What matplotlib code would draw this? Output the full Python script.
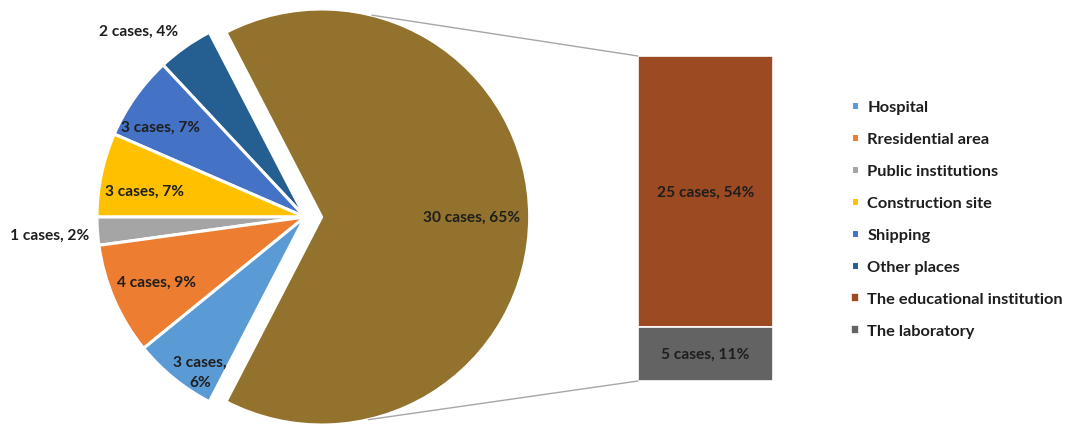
import numpy as np
import matplotlib
matplotlib.use("Agg")
import matplotlib.pyplot as plt
from matplotlib.patches import ConnectionPatch

plt.rcParams['font.family'] = ['Lato', 'DejaVu Sans']

# pie part (small places)
categories = ["Hospital", "Rresidential area", "Public institutions",
              "Construction site", "Shipping", "Other places"]
counts = [3, 4, 1, 3, 3, 2]
pcts = [6, 9, 2, 7, 7, 4]

# bar part (split of the big slice)
bar_categories = ["The educational institution", "The laboratory"]
bar_counts = [25, 5]
bar_pcts = [54, 11]
big_pct = 65

colors = ["#5B9BD5", "#ED7D31", "#A5A5A5", "#FFC000", "#4472C4", "#255E91"]
bar_colors = ["#9C4A22", "#636363"]
big_color = "#93722D"

W, H = 1068, 427
fig = plt.figure(figsize=(W / 100, H / 100), dpi=100)

# pie axes: 208 px per unit, center at (305, 218) px
R = 208.0
cx, cy = 305, 218
ax = fig.add_axes([0, 0, 620 / W, 1])

big = sum(bar_counts)
total = big + sum(counts)
values = [big] + counts[::-1]
pcolors = [big_color] + colors[::-1]
explode = [0.08] + [0] * len(counts)
start = -big / total * 180.0
wedges, _ = ax.pie(values, colors=pcolors, explode=explode, startangle=start,
                   counterclock=True,
                   wedgeprops=dict(edgecolor="white", linewidth=2.2))
ax.set_xlim(-cx / R, (620 - cx) / R)
ax.set_ylim(-(H - cy) / R, cy / R)
ax.set_aspect('auto')
ax.axis('off')

# labels
txt = dict(fontsize=11.2, fontweight='bold', color='#1e1e1e',
           ha='center', va='center')
small_labels = ["{} cases,\n{}%".format(c, p) if i == 0 else "{} cases, {}%".format(c, p)
                for i, (c, p) in enumerate(zip(counts, pcts))]
dist = [0.9, 0.78, 1.23, 0.78, 0.82, 1.2]
turn = [5, 0, 0, 2.5, 3.4, 6.5]
for k, w in enumerate(wedges[1:]):
    i = len(counts) - 1 - k
    mid = np.deg2rad((w.theta1 + w.theta2) / 2 + turn[i])
    ax.text(dist[i] * np.cos(mid), dist[i] * np.sin(mid), small_labels[i],
            linespacing=1.55, **txt)
bc = wedges[0].center
ax.text(bc[0] + 0.72, bc[1], "{} cases, {}%".format(big, big_pct), **txt)

# bar axes
bx = fig.add_axes([638 / W, (H - 382) / H, 135 / W, 325 / H])
bottoms = [bar_counts[1], 0]
for n, (v, b, col) in enumerate(zip(bar_counts, bottoms, bar_colors)):
    bx.bar(0.5, v, width=1, bottom=b, color=col, edgecolor="white", linewidth=1.2)
    bx.text(0.5, b + v / 2, "{} cases, {}%".format(v, bar_pcts[n]), **txt)
bx.set_xlim(0, 1)
bx.set_ylim(0, big)
bx.axis('off')

# connector lines from the rim of the big slice to the bar corners
for corner, ang in [((0, big), 76), ((0, 0), -77)]:
    a = np.deg2rad(ang)
    start_pt = (bc[0] + np.cos(a), bc[1] + np.sin(a))
    con = ConnectionPatch(xyA=start_pt, coordsA=ax.transData,
                          xyB=corner, coordsB=bx.transData,
                          color="#A6A6A6", linewidth=1.0)
    fig.add_artist(con)

# legend
handles = list(wedges[1:][::-1]) + list(bx.patches)
labels = categories + bar_categories
fig.legend(handles, labels, loc='upper left', bbox_to_anchor=(851 / W, 1 - 101 / H),
           frameon=False, handlelength=0.5, handleheight=0.5, handletextpad=0.5,
           labelspacing=1.1, borderpad=0, borderaxespad=0,
           prop=dict(size=11.8, weight='bold'), labelcolor='#1e1e1e')

plt.savefig('out.png', dpi=100)
